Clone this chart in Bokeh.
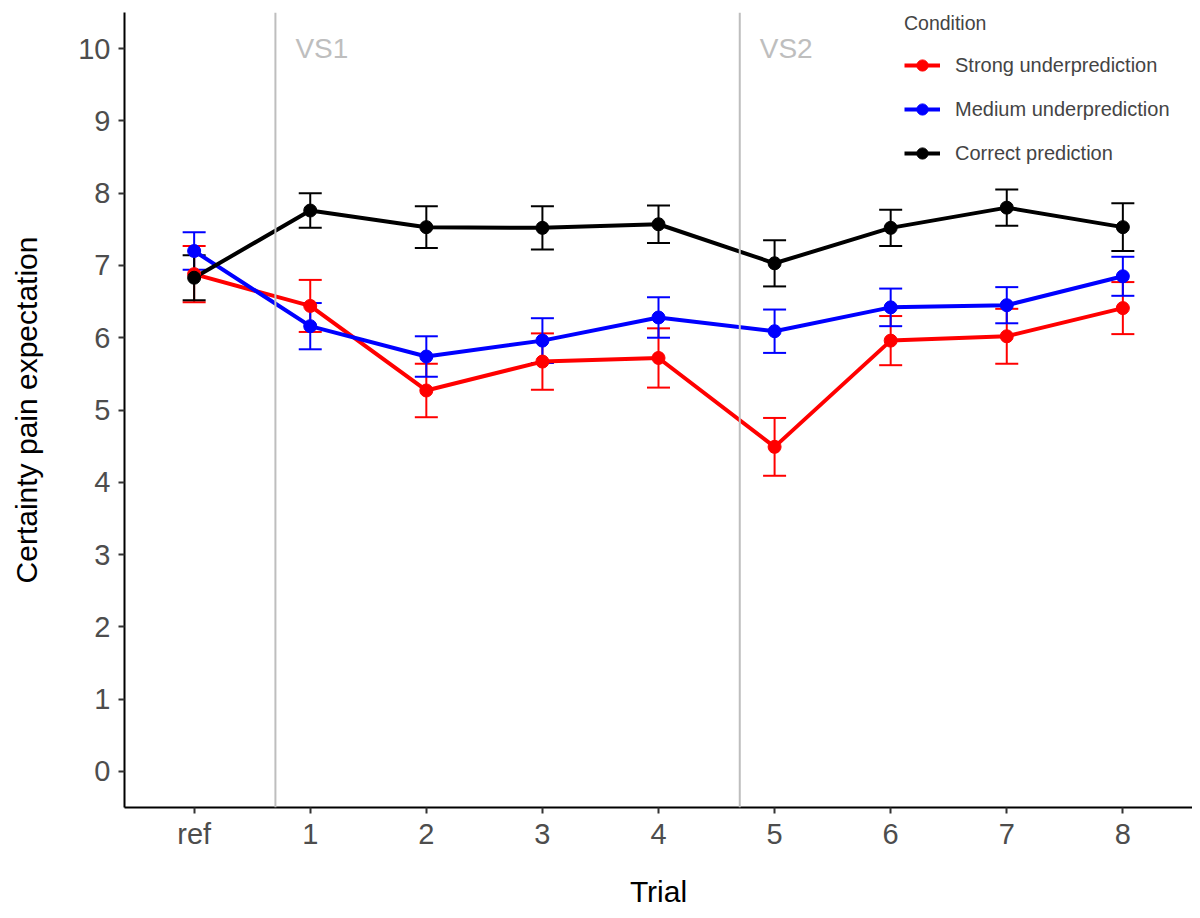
from bokeh.plotting import figure
from bokeh.models import (Range1d, FixedTicker, Span, Whisker, TeeHead, ColumnDataSource,
                          Legend, LegendItem)
from bokeh.core.properties import value
from bokeh.embed import file_html
from bokeh.resources import INLINE

# ---- data ----
trials = ["ref", "1", "2", "3", "4", "5", "6", "7", "8"]
strong_mean = [6.88, 6.44, 5.27, 5.67, 5.72, 4.49, 5.96, 6.02, 6.41]
strong_se = [0.39, 0.36, 0.37, 0.39, 0.41, 0.40, 0.34, 0.38, 0.36]
medium_mean = [7.20, 6.16, 5.74, 5.96, 6.28, 6.09, 6.42, 6.45, 6.85]
medium_se = [0.26, 0.32, 0.28, 0.31, 0.28, 0.30, 0.26, 0.25, 0.27]
correct_mean = [6.83, 7.76, 7.53, 7.52, 7.57, 7.03, 7.52, 7.80, 7.53]
correct_se = [0.31, 0.24, 0.29, 0.30, 0.26, 0.32, 0.25, 0.25, 0.33]
conditions = ["Strong underprediction", "Medium underprediction", "Correct prediction"]
colors = ["#FF0000", "#0000FF", "#000000"]
phase_breaks = [0.7, 4.7]
phase_labels = ["VS1", "VS2"]
y_ticks = list(range(0, 11))

FONT = "Liberation Sans"
x_idx = list(range(len(trials)))

p = figure(width=1192, height=910, output_backend="svg", toolbar_location=None,
           x_range=Range1d(-0.6, 8.6), y_range=Range1d(-0.5, 10.5),
           min_border_left=124, min_border_right=0, min_border_top=12, min_border_bottom=103)
p.background_fill_color = "white"
p.border_fill_color = "white"
p.outline_line_color = None
p.xgrid.visible = False
p.ygrid.visible = False

for ax in (p.xaxis[0], p.yaxis[0]):
    ax.axis_line_color = "black"
    ax.axis_line_width = 2
    ax.major_tick_line_color = "#333333"
    ax.major_tick_line_width = 2
    ax.major_tick_out = 6
    ax.major_tick_in = 0
    ax.minor_tick_line_color = None
    ax.major_label_text_font = FONT
    ax.major_label_text_font_size = "29px"
    ax.major_label_text_color = "#4D4D4D"
    ax.axis_label_text_font = FONT
    ax.axis_label_text_font_size = "30px"
    ax.axis_label_text_font_style = "normal"
    ax.axis_label_text_color = "black"

p.xaxis.ticker = FixedTicker(ticks=x_idx)
p.xaxis.major_label_overrides = {i: t for i, t in zip(x_idx, trials)}
p.xaxis.axis_label = "Trial"
p.xaxis.major_label_standoff = 4
p.xaxis.axis_label_standoff = 22

p.yaxis.ticker = FixedTicker(ticks=y_ticks)
p.yaxis.axis_label = "Certainty pain expectation"
p.yaxis.major_label_standoff = 8
p.yaxis.axis_label_standoff = 32

# phase separators
for b in phase_breaks:
    p.add_layout(Span(location=b, dimension="height", line_color="#BEBEBE", line_width=2))
p.text(x=phase_breaks, y=[10, 10], text=phase_labels, x_offset=20,
       text_align="left", text_baseline="middle", text_color="#BEBEBE",
       text_font=value(FONT), text_font_size="28px")

means = [strong_mean, medium_mean, correct_mean]
ses = [strong_se, medium_se, correct_se]

line_rs = []
for m, c in zip(means, colors):
    line_rs.append(p.line(x_idx, m, line_color=c, line_width=4))
pt_rs = []
for m, c in zip(means, colors):
    pt_rs.append(p.scatter(x_idx, m, size=13, fill_color=c, line_color=c))
for m, s, c in zip(means, ses, colors):
    src = ColumnDataSource(dict(x=x_idx,
                                upper=[a + b for a, b in zip(m, s)],
                                lower=[a - b for a, b in zip(m, s)]))
    w = Whisker(source=src, base="x", upper="upper", lower="lower", dimension="height",
                line_color=c, line_width=2,
                upper_head=TeeHead(size=23, line_color=c, line_width=2),
                lower_head=TeeHead(size=23, line_color=c, line_width=2))
    p.add_layout(w)

legend_items = [LegendItem(label=name, renderers=[lr, sr])
                for name, lr, sr in zip(conditions, line_rs, pt_rs)]

legend = Legend(items=legend_items, location=(780, 640), title="Condition",
                title_text_font=FONT, title_text_font_size="19.5px", title_text_font_style="normal",
                title_standoff=16,
                label_text_font=FONT, label_text_font_size="20px",
                glyph_width=36, glyph_height=28, label_height=28, spacing=16,
                label_standoff=15, padding=0, margin=0,
                border_line_color=None, background_fill_alpha=0)
p.add_layout(legend)

open("out.html", "w").write(file_html(p, INLINE))
